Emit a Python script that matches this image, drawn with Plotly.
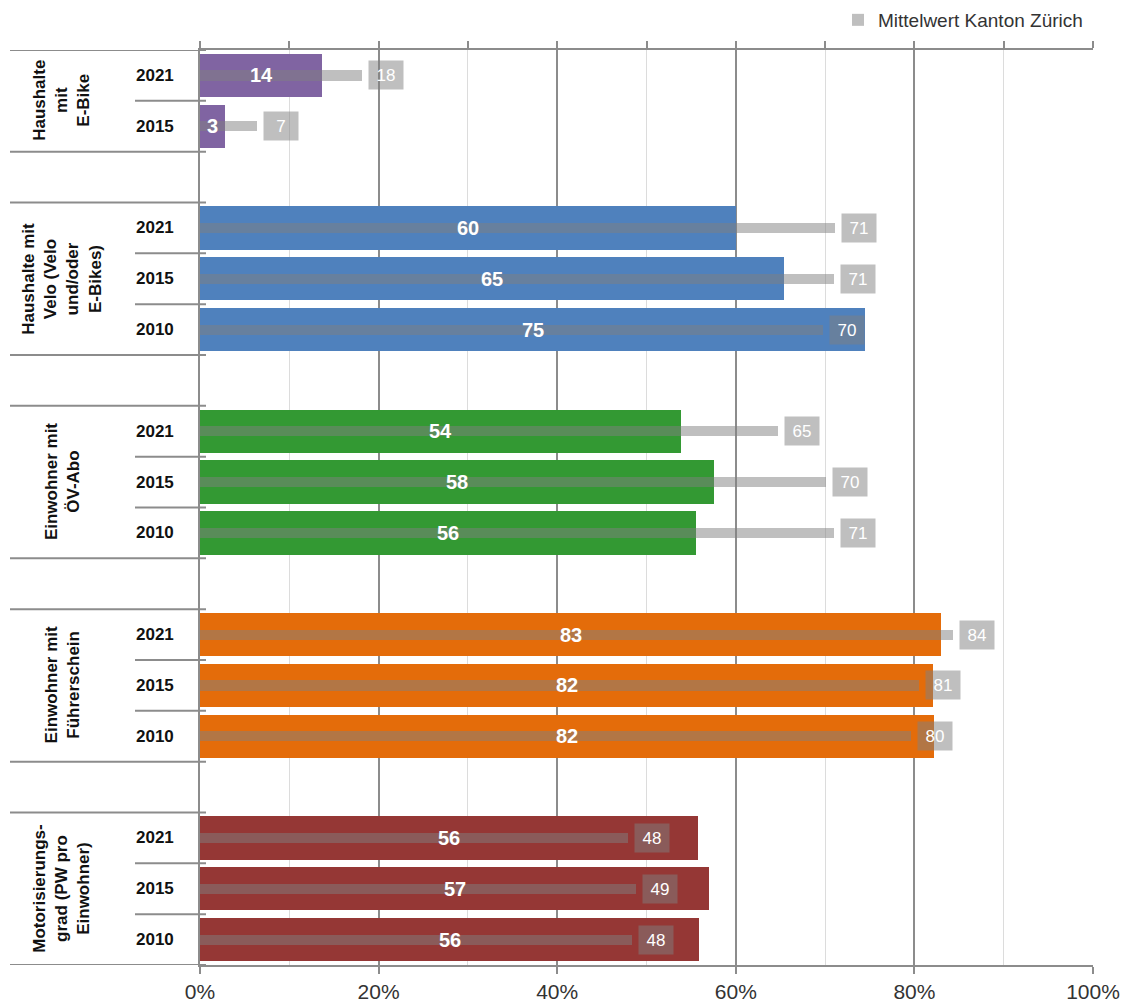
import plotly.graph_objects as go

# ---------------- data ----------------
groups = [
    "Haushalte<br>mit<br>E-Bike",
    "Haushalte mit<br>Velo (Velo<br>und/oder<br>E-Bikes)",
    "Einwohner mit<br>ÖV-Abo",
    "Einwohner mit<br>Führerschein",
    "Motorisierungs-<br>grad (PW pro<br>Einwohner)",
]
years = [
    ["2021", "2015"],
    ["2021", "2015", "2010"],
    ["2021", "2015", "2010"],
    ["2021", "2015", "2010"],
    ["2021", "2015", "2010"],
]
values = [
    [13.7, 2.8],
    [60.0, 65.4, 74.5],
    [53.9, 57.6, 55.5],
    [83.0, 82.1, 82.2],
    [55.8, 57.0, 55.9],
]
value_labels = [
    ["14", "3"],
    ["60", "65", "75"],
    ["54", "58", "56"],
    ["83", "82", "82"],
    ["56", "57", "56"],
]
mean_values = [
    [18.1, 6.4],
    [71.1, 71.0, 69.8],
    [64.7, 70.1, 71.0],
    [84.3, 80.5, 79.6],
    [47.9, 48.8, 48.4],
]
mean_labels = [
    ["18", "7"],
    ["71", "71", "70"],
    ["65", "70", "71"],
    ["84", "81", "80"],
    ["48", "49", "48"],
]
x_ticks = [0, 20, 40, 60, 80, 100]
x_tick_text = ["0%", "20%", "40%", "60%", "80%", "100%"]
legend_name = "Mittelwert Kanton Zürich"

# ---------------- styles ----------------
colors = ["#8064a2", "#4f81bd", "#339933", "#e46c0a", "#953735"]
mean_color = "rgba(128,128,128,0.5)"
line_color = "#8c8c8c"
FONT = "Liberation Sans, Arial, sans-serif"

W, H = 1132, 1003
ML, MR, MT, MB = 200, 39, 50, 38
plot_w = W - ML - MR
plot_h = H - MT - MB


def px_to_paper(px):
    return (px - ML) / plot_w


# slot layout: each group's rows, empty slot between groups
slots = []
pos = 0
for g, yrs in enumerate(years):
    slots.append(list(range(pos, pos + len(yrs))))
    pos += len(yrs) + 1
last_slot = slots[-1][-1]

fig = go.Figure()
shapes = []
annotations = []

for g in range(len(groups)):
    fig.add_trace(go.Bar(
        y=slots[g], x=values[g], orientation="h", width=0.85,
        marker=dict(color=colors[g], line=dict(width=0)),
        showlegend=False, hoverinfo="x",
    ))

all_slots = [s for grp in slots for s in grp]
all_means = [m for grp in mean_values for m in grp]
fig.add_trace(go.Bar(
    y=all_slots, x=all_means, orientation="h", width=0.2,
    marker=dict(color=mean_color, line=dict(width=0)),
    name=legend_name, showlegend=True, hoverinfo="x",
))

# invisible trace on top axis
fig.add_trace(go.Scatter(x=[0, 100], y=[0, 0], xaxis="x2", mode="none",
                         showlegend=False, hoverinfo="skip"))

for g in range(len(groups)):
    s = slots[g]
    # group label
    annotations.append(dict(
        x=px_to_paper(62), xref="paper", y=(s[0] + s[-1]) / 2, yref="y",
        text=groups[g], textangle=-90, showarrow=False,
        font=dict(family=FONT, size=17, color="#111111", weight="bold"),
        xanchor="center", yanchor="middle",
    ))
    # long separators (group top / bottom)
    for yy in (s[0] - 0.5, s[-1] + 0.5):
        shapes.append(dict(type="line", xref="paper", yref="y",
                           x0=px_to_paper(10), x1=px_to_paper(206), y0=yy, y1=yy,
                           line=dict(color=line_color, width=2)))
    # short separators between years
    for k in range(len(s) - 1):
        yy = s[k] + 0.5
        shapes.append(dict(type="line", xref="paper", yref="y",
                           x0=px_to_paper(135), x1=px_to_paper(206), y0=yy, y1=yy,
                           line=dict(color=line_color, width=2)))
    for k, sl in enumerate(s):
        # year label
        annotations.append(dict(
            x=px_to_paper(155), xref="paper", y=sl, yref="y", text=years[g][k],
            showarrow=False, font=dict(family=FONT, size=17, color="#111111", weight="bold"),
            xanchor="center", yanchor="middle",
        ))
        # value label inside bar
        annotations.append(dict(
            x=values[g][k] / 2, xref="x", y=sl, yref="y", text=value_labels[g][k],
            showarrow=False, font=dict(family=FONT, size=20, color="white", weight="bold"),
            xanchor="center", yanchor="middle",
        ))
        # mean label box
        annotations.append(dict(
            x=mean_values[g][k], xref="x", y=sl, yref="y", text=mean_labels[g][k],
            showarrow=False, font=dict(family=FONT, size=17, color="white"),
            xanchor="left", yanchor="middle", xshift=6,
            bgcolor=mean_color, borderpad=4, width=26, height=20,
        ))

fig.update_layout(
    width=W, height=H,
    margin=dict(l=ML, r=MR, t=MT, b=MB, autoexpand=False),
    paper_bgcolor="white", plot_bgcolor="white",
    barmode="overlay", bargap=0,
    font=dict(family=FONT, color="#333333"),
    shapes=shapes, annotations=annotations,
    legend=dict(orientation="h", x=1 - 5 / plot_w, xanchor="right",
                y=1 + 30 / plot_h, yanchor="middle",
                font=dict(family=FONT, size=19, color="#333333"),
                bgcolor="rgba(0,0,0,0)", itemwidth=30),
    xaxis=dict(
        range=[0, 100], tickvals=x_ticks, ticktext=x_tick_text,
        showgrid=True, gridcolor=line_color, gridwidth=2,
        minor=dict(dtick=10, showgrid=True, gridcolor="#dcdcdc", gridwidth=1),
        showline=True, linecolor=line_color, linewidth=2,
        ticks="outside", ticklen=7, tickwidth=2, tickcolor=line_color,
        tickfont=dict(family=FONT, size=21, color="#333333"),
        zeroline=False, fixedrange=True,
    ),
    xaxis2=dict(
        range=[0, 100], overlaying="x", side="top", dtick=10, tick0=0,
        showticklabels=False, showgrid=False, zeroline=False,
        showline=True, linecolor=line_color, linewidth=2,
        ticks="outside", ticklen=7, tickwidth=2, tickcolor=line_color,
    ),
    yaxis=dict(
        range=[last_slot + 0.5, -0.5], showticklabels=False, showgrid=False,
        zeroline=False, showline=True, linecolor=line_color, linewidth=2,
        ticks="", fixedrange=True,
    ),
)

fig.write_html("out.html")
